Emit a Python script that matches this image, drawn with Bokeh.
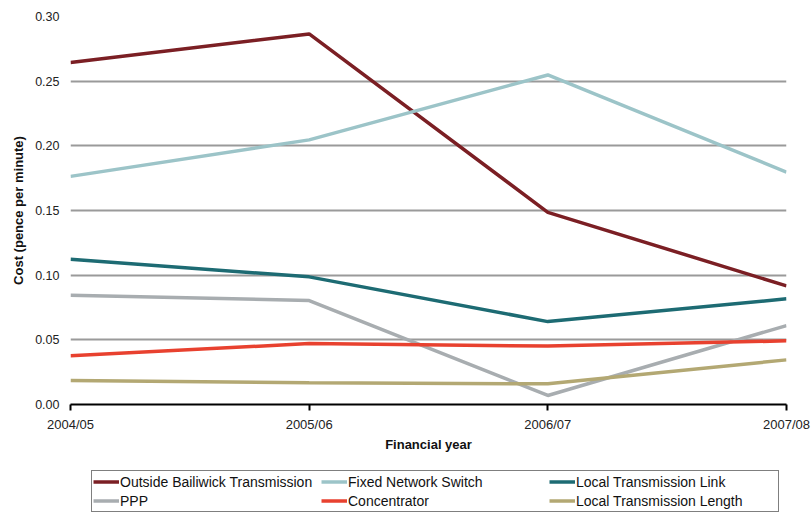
from bokeh.plotting import figure
from bokeh.layouts import column
from bokeh.models import (Range1d, FixedTicker, NumeralTickFormatter, Legend,
                          LegendItem)
from bokeh.embed import file_html
from bokeh.resources import INLINE

# Cost per minute (pence) by financial year
years = ["2004/05", "2005/06", "2006/07", "2007/08"]
outside_bailiwick = [0.2645, 0.2865, 0.1486, 0.0917]
fixed_network_switch = [0.1764, 0.2046, 0.2548, 0.1797]
local_transmission_link = [0.1123, 0.0987, 0.0641, 0.0817]
ppp = [0.0845, 0.0804, 0.0070, 0.0610]
concentrator = [0.0376, 0.0471, 0.0452, 0.0492]
local_transmission_length = [0.0185, 0.0168, 0.0160, 0.0345]

series = [
    ("Outside Bailiwick Transmission", outside_bailiwick, "#7B1F24"),
    ("Fixed Network Switch", fixed_network_switch, "#9CC4C8"),
    ("Local Transmission Link", local_transmission_link, "#1D6B73"),
    ("PPP", ppp, "#A8ADB0"),
    ("Concentrator", concentrator, "#E8412F"),
    ("Local Transmission Length", local_transmission_length, "#B3A873"),
]

xs = list(range(len(years)))
FONT = "Liberation Sans"
LINE_W = 3.5

p = figure(width=811, height=462, output_backend="svg", toolbar_location=None,
           x_range=Range1d(0, len(years) - 1), y_range=Range1d(0, 0.30),
           min_border_left=70, min_border_right=25, min_border_top=16,
           min_border_bottom=58)
p.outline_line_color = None
p.background_fill_color = "white"
p.border_fill_color = "white"

# gridlines
p.xgrid.grid_line_color = None
p.ygrid.grid_line_color = "#9A9A9A"
p.ygrid.grid_line_width = 2

# y axis
p.yaxis.ticker = FixedTicker(ticks=[0, 0.05, 0.10, 0.15, 0.20, 0.25, 0.30])
p.yaxis.formatter = NumeralTickFormatter(format="0.00")
p.yaxis.axis_line_color = None
p.yaxis.major_tick_line_color = None
p.yaxis.minor_tick_line_color = None
p.yaxis.major_label_standoff = 5
p.yaxis.major_label_text_font = FONT
p.yaxis.major_label_text_font_size = "12.5px"
p.yaxis.major_label_text_color = "#222222"
p.yaxis.axis_label = "Cost (pence per minute)"
p.yaxis.axis_label_text_font = FONT
p.yaxis.axis_label_text_font_size = "13px"
p.yaxis.axis_label_text_font_style = "bold"
p.yaxis.axis_label_text_color = "#111111"
p.yaxis.axis_label_standoff = 6

# x axis
p.xaxis.ticker = FixedTicker(ticks=xs)
p.xaxis.major_label_overrides = {i: y for i, y in enumerate(years)}
p.xaxis.axis_line_color = "black"
p.xaxis.axis_line_width = 2
p.xaxis.major_tick_line_color = "black"
p.xaxis.major_tick_line_width = 2
p.xaxis.major_tick_in = 0
p.xaxis.major_tick_out = 6
p.xaxis.minor_tick_line_color = None
p.xaxis.major_label_standoff = 6
p.xaxis.major_label_text_font = FONT
p.xaxis.major_label_text_font_size = "13px"
p.xaxis.major_label_text_color = "#222222"
p.xaxis.axis_label = "Financial year"
p.xaxis.axis_label_text_font = FONT
p.xaxis.axis_label_text_font_size = "13px"
p.xaxis.axis_label_text_font_style = "bold"
p.xaxis.axis_label_text_color = "#111111"
p.xaxis.axis_label_standoff = 2

for name, vals, color in series:
    p.line(xs, vals, line_color=color, line_width=LINE_W)

# legend strip underneath the chart; its ranges keep the series out of view
leg_fig = figure(width=811, height=50, output_backend="svg",
                 toolbar_location=None, x_range=Range1d(100, 101),
                 y_range=Range1d(100, 101), min_border=0)
leg_fig.axis.visible = False
leg_fig.grid.visible = False
leg_fig.outline_line_color = None
leg_fig.border_fill_color = "white"

items = []
for name, vals, color in series:
    r = leg_fig.line(xs, vals, line_color=color, line_width=LINE_W)
    items.append(LegendItem(label=name, renderers=[r]))

legend = Legend(items=items, location=(21, 0), orientation="horizontal",
                ncols=3, border_line_color="black", border_line_width=1,
                background_fill_color="white", background_fill_alpha=1,
                label_text_font=FONT, label_text_font_size="14px",
                label_text_color="#111111", glyph_width=26, glyph_height=19,
                label_standoff=1, label_height=19, label_width=201,
                spacing=0, padding=1, margin=0)
leg_fig.add_layout(legend, "center")

layout = column(p, leg_fig, spacing=0)
open("out.html", "w").write(file_html(layout, INLINE))
